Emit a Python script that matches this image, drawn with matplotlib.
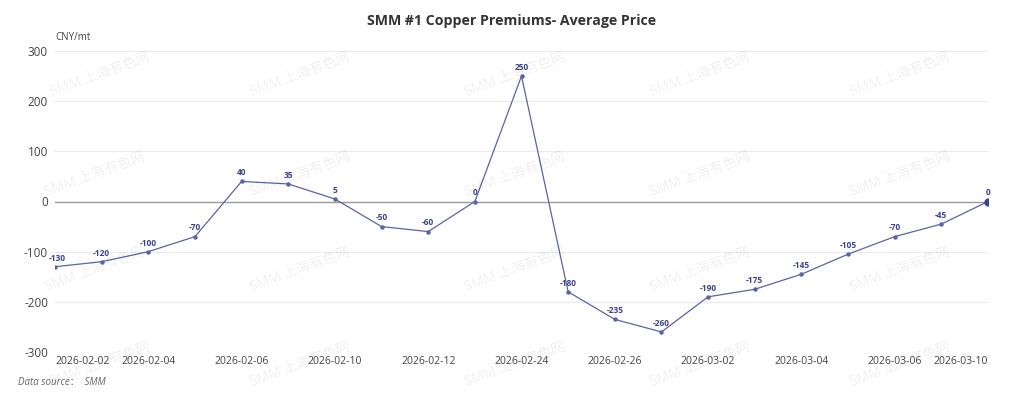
import matplotlib.pyplot as plt

plt.rcParams['font.family'] = ['Open Sans', 'Noto Sans CJK SC', 'DejaVu Sans']

# ==========================
# 数据
# ==========================
dates = ["2026-02-02", "2026-02-03", "2026-02-04", "2026-02-05", "2026-02-06",
         "2026-02-09", "2026-02-10", "2026-02-11", "2026-02-12", "2026-02-13",
         "2026-02-24", "2026-02-25", "2026-02-26", "2026-02-27", "2026-03-02",
         "2026-03-03", "2026-03-04", "2026-03-05", "2026-03-06", "2026-03-09",
         "2026-03-10"]
prices = [-130, -120, -100, -70, 40, 35, 5, -50, -60, 0, 250,
          -180, -235, -260, -190, -175, -145, -105, -70, -45, 0]
y_ticks = [-300, -200, -100, 0, 100, 200, 300]

LINE = "#5b63a8"
LABEL = "#3b4486"

fig = plt.figure(figsize=(10.24, 3.99), dpi=100)
ax = fig.add_axes([55 / 1024, 47 / 399, 933 / 1024, 301 / 399])

x = list(range(len(dates)))

# 网格与零线
for v in y_ticks:
    if v == 0:
        ax.axhline(v, color="#9a9a9a", lw=1.0, zorder=1)
    else:
        ax.axhline(v, color="#ebebeb", lw=0.8, zorder=0)

ax.plot(x, prices, color=LINE, lw=0.9, marker="o", ms=2.2, zorder=3)
ax.plot(x[-1], prices[-1], marker="o", ms=5, color=LABEL, zorder=4)

for i, (xi, v) in enumerate(zip(x, prices)):
    dx = 2 if i == 0 else 0
    ax.annotate(str(v), (xi, v), xytext=(dx, 3), textcoords="offset points",
                ha="center", va="bottom", fontsize=6, fontweight="bold",
                color=LABEL, zorder=5)

ax.set_xlim(0, len(dates) - 1)
ax.set_ylim(-300, 300)
ax.set_yticks(y_ticks)
ax.set_yticklabels([str(v) for v in y_ticks], fontsize=8.5, color="#444444")

tick_pos = x[::2]
ax.set_xticks(tick_pos)
ax.set_xticklabels([dates[i] for i in tick_pos], fontsize=7.5, color="#444444")
labels = ax.get_xticklabels()
labels[0].set_ha("left")
labels[-1].set_ha("right")

ax.tick_params(axis="y", length=0, pad=5)
ax.tick_params(axis="x", length=0, pad=3)
for s in ax.spines.values():
    s.set_visible(False)

# 文字
fig.text(0.5, 0.948, "SMM #1 Copper Premiums- Average Price", ha="center",
         va="center", fontsize=10.2, fontweight="bold", color="#333333")
fig.text(55 / 1024, 1 - 37 / 399, "CNY/mt", ha="left", va="center",
         fontsize=7, color="#444444")
fig.text(18 / 1024, 1 - 382 / 399, "Data source：  SMM", ha="left", va="center",
         fontsize=7, style="italic", color="#666666")

# 水印
wm = [(100, 75), (300, 75), (515, 75), (700, 75), (900, 75),
      (95, 175), (300, 175), (515, 175), (700, 175), (900, 175),
      (95, 270), (300, 270), (515, 270), (700, 270), (900, 270),
      (100, 365), (300, 365), (515, 365), (700, 365), (900, 365)]
for px, py in wm:
    fig.text(px / 1024, 1 - py / 399, "SMM 上海有色网", ha="center", va="center",
             fontsize=10, rotation=20, color="#000000", alpha=0.06, zorder=0)

fig.savefig("out.png", dpi=100)
